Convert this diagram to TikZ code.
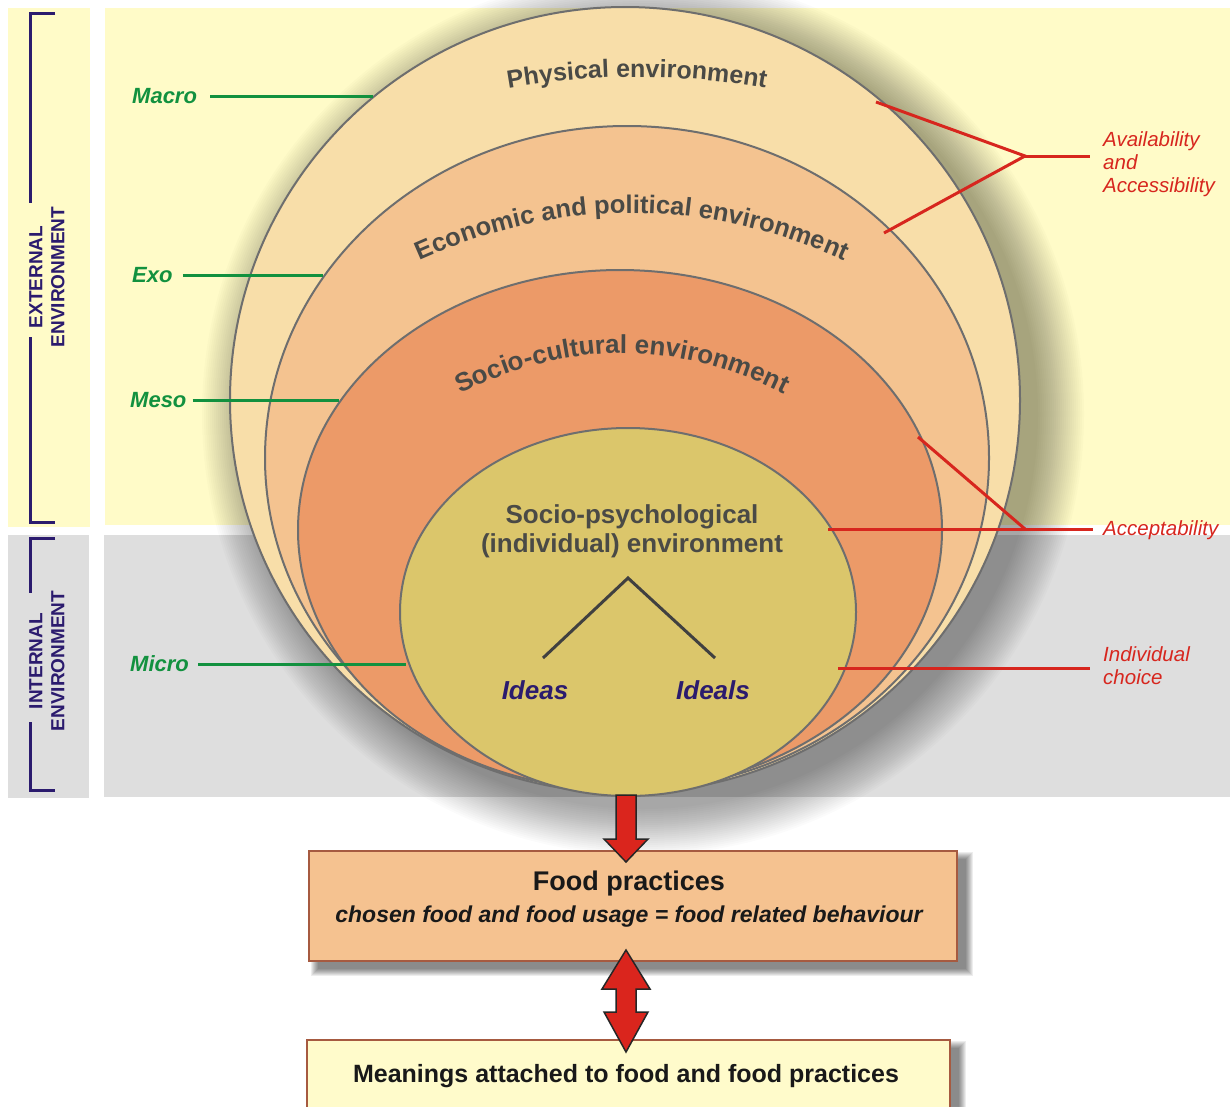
\documentclass[tikz,border=0pt]{standalone}
\usepackage{fontspec}
\setmainfont{Liberation Sans}
\usetikzlibrary{shapes.geometric,decorations.text}
\definecolor{bgY}{HTML}{FFFBC8}
\definecolor{bgG}{HTML}{DEDEDE}
\definecolor{physC}{HTML}{F8DEA9}
\definecolor{econC}{HTML}{F4C390}
\definecolor{socC}{HTML}{EC9A68}
\definecolor{psyC}{HTML}{DBC66B}
\definecolor{ringLine}{HTML}{6E6E6E}
\definecolor{txtDark}{HTML}{4A4A46}
\definecolor{gr}{HTML}{12913F}
\definecolor{rd}{HTML}{D7261E}
\definecolor{navy}{HTML}{2B1B6E}
\definecolor{arrRed}{HTML}{DA251D}
\definecolor{foodFill}{HTML}{F5C290}
\definecolor{boxLine}{HTML}{A65A40}
\definecolor{meanFill}{HTML}{FFFBCB}
\newcommand\fsz[2]{\fontsize{#1pt}{#2pt}\selectfont}
\begin{document}
\begin{tikzpicture}[x=1pt,y=-1pt,
  ring/.style={ellipse, draw=ringLine, line width=2pt, inner sep=0pt},
  envtxt/.style={font=\fsz{26}{29}\bfseries, text=txtDark, align=center, inner sep=0pt},
  idea/.style={font=\fsz{26}{26}\bfseries\itshape, text=navy, inner sep=0pt},
  glabel/.style={font=\fsz{22}{22}\bfseries\itshape, text=gr, anchor=west, inner sep=0pt},
  gline/.style={draw=gr, line width=3pt},
  rlabel/.style={font=\fsz{20.5}{23}\itshape, text=rd, anchor=west, align=left, inner sep=0pt},
  rline/.style={draw=rd, line width=3pt},
  btext/.style={font=\fsz{19}{22}\bfseries, text=navy, align=center, rotate=90, inner sep=0pt},
  bline/.style={draw=navy, line width=3pt},
  vline/.style={draw=black!75, line width=3pt},
  bigarrow/.style={fill=arrRed, draw=black!85, line width=1.5pt, line join=miter},
  box/.style={rectangle, draw=boxLine, line width=2pt, inner sep=0pt},
  softshade/.style={fill=black, opacity=#1},
]
\useasboundingbox (0,0) rectangle (1230,1106);
\fill[white] (0,0) rectangle (1230,1106);
% backgrounds
\fill[bgY] (105,8) rectangle (1230,525);
\fill[bgY] (8,8) rectangle (90,527);
\fill[bgG] (104,535) rectangle (1230,797);
\fill[bgG] (8,535) rectangle (89,798);

% soft shadow of the nested circles
\coordinate (shc) at (643,414);
\foreach \i in {0,...,23} \fill[softshade=0.016] (shc) circle[radius=441-2*\i];

% nested environments
\node[ring, fill=physC, minimum width=790pt, minimum height=786pt] (phys) at (625,400) {};
\node[ring, fill=econC, minimum width=724pt, minimum height=664pt] (econ) at (627,458) {};
\node[ring, fill=socC, minimum width=644pt, minimum height=520pt] (soc) at (620,530) {};
\node[ring, fill=psyC, minimum width=456pt, minimum height=368pt] (psy) at (628,612) {};

% curved titles
\path[decorate, decoration={text along path, text align=center,
  text={|\fsz{25}{25}\bfseries\color{txtDark}|Physical environment}}]
  (470,96) .. controls (581.3,70.7) and (692.7,70.7) .. (804,96);
\path[decorate, decoration={text along path, text align=center,
  text={|\fsz{25.5}{25.5}\bfseries\color{txtDark}|Economic and political environment}}]
  (380,280) .. controls (548,190.7) and (716,190.7) .. (884,280);
\path[decorate, decoration={text along path, text align=center,
  text={|\fsz{26}{26}\bfseries\color{txtDark}|Socio-cultural environment}}]
  (420,417) .. controls (554.7,331.7) and (689.3,331.7) .. (824,417);

% inner circle content
\node[envtxt] (psytxt) at (632,531) {Socio-psychological\\(individual) environment};
\draw[vline] (543,658) -- (628,578) -- (715,658);
\node[idea] (ideas) at (535,690) {Ideas};
\node[idea] (ideals) at (713,690) {Ideals};

% green level labels
\node[glabel] (macro) at (132,96) {Macro};
\coordinate (macroE) at (373,96);
\draw[gline, shorten <=13pt] (macro.east) -- (macroE);
\node[glabel] (exo) at (132,275) {Exo};
\coordinate (exoE) at (323,275);
\draw[gline, shorten <=10pt] (exo.east) -- (exoE);
\node[glabel] (meso) at (130,400) {Meso};
\coordinate (mesoE) at (339,400);
\draw[gline, shorten <=6pt] (meso.east) -- (mesoE);
\node[glabel] (micro) at (130,664) {Micro};
\coordinate (microE) at (406,664);
\draw[gline, shorten <=9pt] (micro.east) -- (microE);

% red labels
\node[rlabel] (avail) at (1103,164) {Availability\\and\\Accessibility};
\coordinate (avP) at (876,102);
\coordinate (avQ) at (884,233);
\coordinate (avJ) at (1025,156);
\coordinate (avE) at (1090,156);
\draw[rline] (avP) -- (avJ) -- (avQ);
\draw[rline] (avJ) -- (avE);
\node[rlabel] (accept) at (1103,530) {Acceptability};
\coordinate (acP) at (918,437);
\coordinate (acJ) at (1025,529);
\coordinate (acQ) at (828,529);
\coordinate (acE) at (1093,529);
\draw[rline] (acP) -- (acJ);
\draw[rline] (acQ) -- (acE);
\node[rlabel] (indiv) at (1103,666) {Individual\\choice};
\coordinate (icQ) at (838,668);
\coordinate (icE) at (1090,668);
\draw[rline] (icQ) -- (icE);

% brackets
\node[btext] (ext) at (47,277) {EXTERNAL\\ENVIRONMENT};
\draw[bline] (55,13) -- (30,13) -- (30,203);
\draw[bline] (30,337) -- (30,522) -- (55,522);
\node[btext] (int) at (47,661) {INTERNAL\\ENVIRONMENT};
\draw[bline] (55,538) -- (30,538) -- (30,593);
\draw[bline] (30,722) -- (30,790) -- (55,790);

% box shadows
\foreach \i in {0,...,7} \fill[softshade=0.07] (311+\i,852+\i) rectangle (973-\i,976-\i);
\foreach \i in {0,...,7} \fill[softshade=0.07] (309+\i,1041+\i) rectangle (966-\i,1135-\i);

% boxes
\node[box, fill=foodFill, minimum width=648pt, minimum height=110pt] (food) at (633,906) {};
\node[font=\fsz{27}{27}\bfseries, text=black!90, inner sep=0pt] (foodT) at (629,884) {Food practices};
\node[font=\fsz{23}{23}\bfseries\itshape, text=black!90, inner sep=0pt] (foodS) at (629,917) {chosen food and food usage = food related behaviour};
\node[box, fill=meanFill, minimum width=643pt, minimum height=80pt] (mean) at (628.5,1080) {};
\node[font=\fsz{25}{25}\bfseries, text=black!90, inner sep=0pt] (meanT) at (626,1076) {Meanings attached to food and food practices};

% block arrows
\draw[bigarrow] (616,795) -- (636,795) -- (636,839) -- (648,839) -- (626,862) -- (604,839) -- (616,839) -- cycle;
\draw[bigarrow] (626,950) -- (650,989) -- (636,989) -- (636,1012) -- (648,1012) -- (626,1052) -- (604,1012) -- (616,1012) -- (616,989) -- (602,989) -- cycle;
\end{tikzpicture}
\end{document}
